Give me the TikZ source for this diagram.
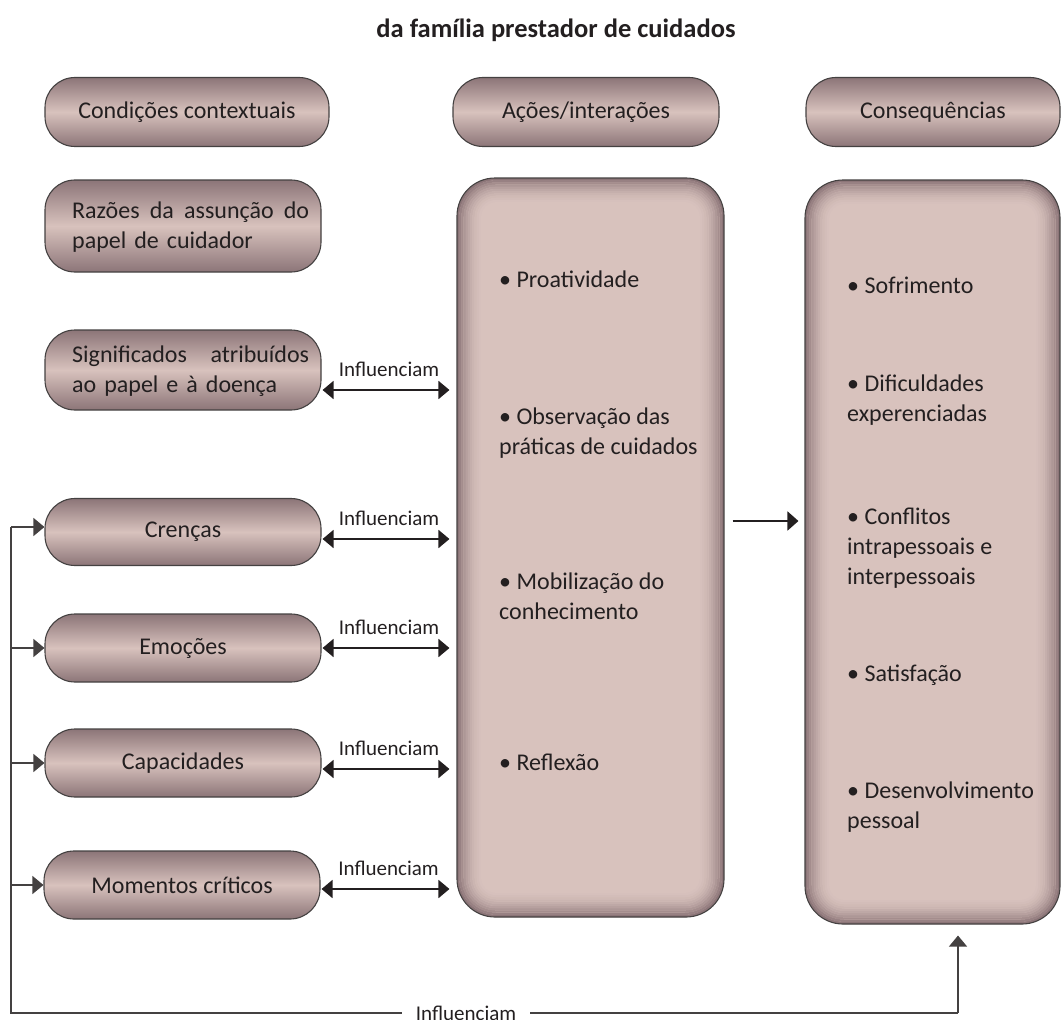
\documentclass[tikz,border=0pt]{standalone}
\usepackage{fontspec}
\setmainfont{Carlito}
\usetikzlibrary{arrows.meta,calc}
\definecolor{pdark}{RGB}{140,117,120}
\definecolor{plight}{RGB}{216,194,189}
\definecolor{ink}{RGB}{35,31,32}
\begin{document}
\begin{tikzpicture}[x=1pt,y=-1pt, font=\fontsize{24}{30}\selectfont, text=ink,
  pill/.style={draw=ink!85, line width=1.1pt, rounded corners=30pt,
    top color=pdark, bottom color=pdark, middle color=plight, inner sep=0pt},
  bigbox/.style={draw=ink!85, line width=1.1pt, rounded corners=38pt, fill=plight, inner sep=0pt,
    path picture={
      \foreach \i in {0,...,11}{
        \pgfmathsetmacro{\ss}{\i*2.2+1.1}
        \pgfmathsetmacro{\rr}{max(38-\i*2.2,4)}
        \pgfmathtruncatemacro{\mm}{100*(1-\i/12)^2}
        \draw[line width=2.4pt, draw=pdark!\mm!plight, rounded corners=\rr pt]
          ([xshift=\ss pt, yshift=-\ss pt]path picture bounding box.north west) rectangle
          ([xshift=-\ss pt, yshift=\ss pt]path picture bounding box.south east);
      }
    }},
  item/.style={anchor=west, align=left, inner sep=0pt},
  lbl/.style={font=\fontsize{21}{24}\selectfont, inner sep=0pt},
  dbl/.style={{Triangle[length=11pt,width=18pt]}-{Triangle[length=11pt,width=18pt]}, line width=1.8pt, draw=ink},
  sarrow/.style={-{Triangle[length=11pt,width=19pt]}, line width=1.8pt, draw=ink},
  fbline/.style={line width=1.3pt, draw=ink!85},
  larrow/.style={-{Triangle[length=11pt,width=18pt]}, line width=1.3pt, draw=ink!85}
]
\useasboundingbox (0,0) rectangle (1064,1019);

\node[font=\fontsize{26.5}{30}\selectfont\bfseries] (title) at (556,30) {da família prestador de cuidados};

% headers
\node[pill, minimum width=284pt, minimum height=69pt] (cond) at (187,112) {Condições contextuais};
\node[pill, minimum width=266pt, minimum height=69pt] (acoes) at (586,112) {Ações/interações};
\node[pill, minimum width=254pt, minimum height=69pt] (cons) at (933,112) {Consequências};

% left column
\node[pill, minimum width=276pt, minimum height=92pt] (raz) at (183,226) {};
\node[item, text width=237pt] (raztxt) at (72,227)
  {\hbox to 237pt{Razões\hfill da\hfill assunção\hfill do}\\papel de cuidador};
\node[pill, minimum width=276pt, minimum height=80pt] (sig) at (183,370) {};
\node[item, text width=237pt] (sigtxt) at (72,371)
  {\hbox to 237pt{Significados\hfill atribuídos}\\ao papel e à doença};
\node[pill, minimum width=276pt, minimum height=67pt] (cren) at (183,532) {Crenças};
\node[pill, minimum width=276pt, minimum height=68pt] (emo) at (183,648) {Emoções};
\node[pill, minimum width=276pt, minimum height=68pt] (cap) at (183,763) {Capacidades};
\node[pill, minimum width=276pt, minimum height=68pt] (mom) at (182,885) {Momentos críticos};

% big boxes
\node[bigbox, minimum width=267pt, minimum height=739pt] (mid) at (590.5,547.5) {};
\node[bigbox, minimum width=255pt, minimum height=744pt] (res) at (932.5,552) {};

% middle items
\node[item] (m1) at (499,279) {• Proatividade};
\node[item] (m2) at (499,433) {• Observação das\\práticas de cuidados};
\node[item] (m3) at (499,596) {• Mobilização do\\conhecimento};
\node[item] (m4) at (499,762) {• Reflexão};

% right items
\node[item] (r1) at (847,285) {• Sofrimento};
\node[item] (r2) at (847,400) {• Dificuldades\\experenciadas};
\node[item] (r3) at (847,548) {• Conflitos\\intrapessoais e\\interpessoais};
\node[item] (r4) at (847,675) {• Satisfação};
\node[item] (r5) at (847,807) {• Desenvolvimento\\pessoal};

% influence arrows
\coordinate (a1) at ([yshift=-20pt]sig.east);
\coordinate (a2) at ([yshift=-7pt]cren.east);
\coordinate (a3) at ([yshift=0pt]emo.east);
\coordinate (a4) at ([yshift=-6pt]cap.east);
\coordinate (a5) at ([yshift=-4pt]mom.east);
\foreach \a in {a1,a2,a3,a4,a5}{
  \draw[dbl, shorten <=1pt, shorten >=7pt] (\a) -- (\a -| mid.west)
    node[lbl, midway, above=12pt] {Influenciam};
}

% middle to right
\coordinate (ma) at ([yshift=26.5pt]mid.east);
\draw[sarrow, shorten <=8pt, shorten >=6pt] (ma) -- (ma -| res.west);

% feedback loop
\coordinate (fbtop) at (11,527);
\coordinate (fbbot) at (11,1013);
\coordinate (fbend) at (958,1013);
\draw[fbline] (fbtop) -- (fbbot) -- (fbend);
\draw[larrow, shorten >=11pt] (fbend) -- (fbend |- res.south);
\draw[larrow] (fbtop) -- (fbtop -| cren.west);
\draw[larrow] (fbtop |- emo.west) -- (emo.west);
\draw[larrow] (fbtop |- cap.west) -- (cap.west);
\draw[larrow] (fbtop |- mom.west) -- (mom.west);
\node[lbl, fill=white, inner xsep=14pt, inner ysep=2pt] (bl) at (466,1013) {Influenciam};
\end{tikzpicture}
\end{document}
